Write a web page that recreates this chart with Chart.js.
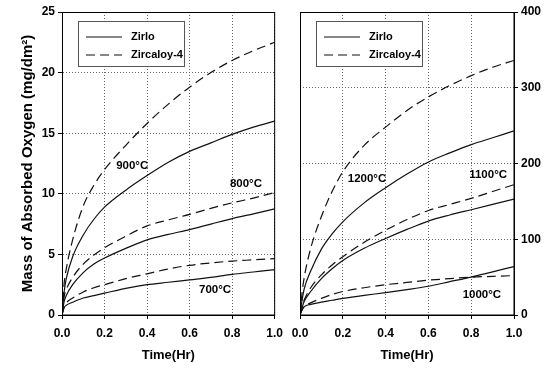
<!DOCTYPE html>
<html>
<head>
<meta charset="utf-8">
<script src="https://cdn.jsdelivr.net/npm/chart.js@4.4.1/dist/chart.umd.min.js"></script>
<style>
  html, body { margin: 0; padding: 0; background: #fff; }
  #wrap { position: relative; width: 548px; height: 370px; overflow: hidden; }
  #c1 { position: absolute; left: 0; top: 0; }
  #c2 { position: absolute; left: 280px; top: 0; }
</style>
</head>
<body>
<div id="wrap">
  <canvas id="c1" width="290" height="370"></canvas>
  <canvas id="c2" width="268" height="370"></canvas>
</div>
<script>
// time axis (hours), shared by every curve
const times = [0, 0.01, 0.02, 0.05, 0.1, 0.15, 0.2, 0.3, 0.4, 0.5, 0.6, 0.7, 0.8, 0.9, 1.0];

// left panel: 700 / 800 / 900 C  (mg/dm2)
const zirlo900    = [0, 1.9, 3.0, 4.8, 6.6, 7.9, 8.9, 10.3, 11.5, 12.6, 13.5, 14.2, 14.9, 15.5, 16.0];
const zircaloy900 = [0, 2.6, 3.8, 6.2, 9.0, 10.7, 12.0, 14.0, 15.8, 17.4, 18.8, 20.0, 21.0, 21.8, 22.5];
const zirlo800    = [0, 1.1, 1.6, 2.5, 3.5, 4.2, 4.7, 5.5, 6.2, 6.65, 7.05, 7.5, 7.95, 8.35, 8.75];
const zircaloy800 = [0, 1.5, 2.1, 3.1, 4.2, 4.95, 5.55, 6.5, 7.35, 7.85, 8.3, 8.8, 9.25, 9.65, 10.1];
const zirlo700    = [0, 0.6, 0.8, 1.05, 1.4, 1.6, 1.8, 2.2, 2.5, 2.7, 2.9, 3.1, 3.35, 3.55, 3.75];
const zircaloy700 = [0, 0.7, 1.0, 1.4, 1.9, 2.25, 2.5, 3.0, 3.4, 3.8, 4.1, 4.3, 4.45, 4.55, 4.65];

// right panel: 1000 / 1100 / 1200 C
const zirlo1200    = [0, 20, 35, 58, 87, 107, 123, 148, 168, 186, 202, 214, 225, 234, 243];
const zircaloy1200 = [0, 30, 50, 88, 130, 163, 189, 224, 248, 270, 288, 303, 316, 327, 336];
const zirlo1100    = [0, 10, 18, 31, 48, 61, 72, 88, 101, 113, 124, 132, 139, 146, 153];
const zircaloy1100 = [0, 12, 20, 36, 53, 66, 77, 96, 112, 126, 138, 146, 154, 163, 172];
const zirlo1000    = [0, 7, 11, 14, 17, 19.5, 22, 26, 29.5, 33.5, 38, 44, 50, 57, 64];
const zircaloy1000 = [0, 7, 11, 16, 22, 27, 31, 36, 40, 43, 46, 48, 50, 51, 52];

const xTicks = [0, 0.2, 0.4, 0.6, 0.8, 1.0];
const legendNames = ['Zirlo', 'Zircaloy-4'];

// temperature labels, anchored in data units (time, mass)
const leftTemps = ['900°C', '800°C', '700°C'];
const leftTempAt = [[0.33, 12.3], [0.865, 10.8], [0.72, 2.1]];
const rightTemps = ['1200°C', '1100°C', '1000°C'];
const rightTempAt = [[0.313, 180], [0.879, 185], [0.85, 26]];

const FONT = '"Liberation Sans", Arial, Helvetica, sans-serif';
const DASH = [9, 5];

function series(values, dashed) {
    return {
        label: dashed ? legendNames[1] : legendNames[0],
        data: times.map((t, i) => ({ x: t, y: values[i] })),
        borderColor: '#111',
        borderWidth: 1.2,
        borderDash: dashed ? DASH : [],
        pointRadius: 0,
        fill: false,
        cubicInterpolationMode: 'monotone'
    };
}

// frame, legend box and temperature labels
function panelDecor(temps, tempAt) {
    return {
        id: 'panelDecor',
        afterDatasetsDraw(chart) {
            const { ctx, chartArea: a, scales } = chart;
            ctx.save();
            // frame
            ctx.strokeStyle = '#000';
            ctx.lineWidth = 1;
            ctx.setLineDash([]);
            ctx.strokeRect(a.left + 0.5, a.top + 0.5, a.right - a.left - 0.5, a.bottom - a.top - 0.5);

            // legend
            const bx = a.left + 16, by = a.top + 9, bw = 106, bh = 45;
            ctx.fillStyle = '#fff';
            ctx.fillRect(bx, by, bw, bh);
            ctx.strokeStyle = '#555';
            ctx.strokeRect(bx + 0.5, by + 0.5, bw, bh);
            ctx.font = 'bold 11px ' + FONT;
            ctx.textBaseline = 'middle';
            ctx.textAlign = 'left';
            legendNames.forEach((name, i) => {
                const y = by + 16 + i * 18;
                ctx.strokeStyle = '#111';
                ctx.lineWidth = 1.2;
                ctx.setLineDash(i === 1 ? DASH : []);
                ctx.beginPath();
                ctx.moveTo(bx + 8, y);
                ctx.lineTo(bx + 44, y);
                ctx.stroke();
                ctx.fillStyle = '#000';
                ctx.fillText(name, bx + 53, y);
            });

            // temperature labels
            ctx.setLineDash([]);
            ctx.font = 'bold 11.5px ' + FONT;
            ctx.textAlign = 'center';
            temps.forEach((txt, i) => {
                const px = scales.x.getPixelForValue(tempAt[i][0]);
                const py = scales.y.getPixelForValue(tempAt[i][1]);
                ctx.fillText(txt, px, py);
            });
            ctx.restore();
        }
    };
}

function makeOptions(side, yMax, yStep) {
    const tickFont = { family: FONT, size: 12, weight: 'bold' };
    const grid = {
        color: '#666',
        lineWidth: 1,
        drawTicks: true,
        tickLength: 4,
        tickColor: '#000',
        tickBorderDash: [],
        tickWidth: 1
    };
    // in Chart.js 4 the grid-line dash lives under border.dash
    const border = { display: true, color: '#000', width: 1, dash: [1, 2] };
    const y = {
        position: side,
        min: 0, max: yMax,
        ticks: { stepSize: yStep, color: '#000', font: tickFont, padding: 3 },
        grid: grid,
        border: border,
        afterFit: s => { s.width = side === 'left' ? 62 : 34; }
    };
    if (side === 'left') {
        y.title = {
            display: true,
            text: 'Mass of Absorbed Oxygen (mg/dm²)',
            color: '#000',
            font: { family: FONT, size: 15, weight: 'bold' },
            padding: { top: 19, bottom: 0 }
        };
    }
    return {
        responsive: false,
        animation: false,
        devicePixelRatio: 1,
        layout: { padding: side === 'left' ? { top: 12, right: 13, left: 0, bottom: 0 } : { top: 12, left: 20, right: 0, bottom: 0 } },
        plugins: { legend: { display: false }, tooltip: { enabled: false } },
        scales: {
            x: {
                type: 'linear',
                min: 0, max: 1,
                afterBuildTicks: s => { s.ticks = xTicks.map(v => ({ value: v })); },
                ticks: { color: '#000', font: tickFont, padding: 7, maxRotation: 0, callback: v => Number(v).toFixed(1) },
                grid: grid,
                border: border,
                title: {
                    display: true,
                    text: 'Time(Hr)',
                    color: '#000',
                    font: { family: FONT, size: 13, weight: 'bold' },
                    padding: { top: 0, bottom: 7 }
                },
                afterFit: s => { s.height = 55; }
            },
            y: y
        }
    };
}

new Chart(document.getElementById('c1'), {
    type: 'line',
    data: {
        datasets: [
            series(zirlo900, false), series(zircaloy900, true),
            series(zirlo800, false), series(zircaloy800, true),
            series(zirlo700, false), series(zircaloy700, true)
        ]
    },
    options: makeOptions('left', 25, 5),
    plugins: [panelDecor(leftTemps, leftTempAt)]
});

new Chart(document.getElementById('c2'), {
    type: 'line',
    data: {
        datasets: [
            series(zirlo1200, false), series(zircaloy1200, true),
            series(zirlo1100, false), series(zircaloy1100, true),
            series(zirlo1000, false), series(zircaloy1000, true)
        ]
    },
    options: makeOptions('right', 400, 100),
    plugins: [panelDecor(rightTemps, rightTempAt)]
});
</script>
</body>
</html>
